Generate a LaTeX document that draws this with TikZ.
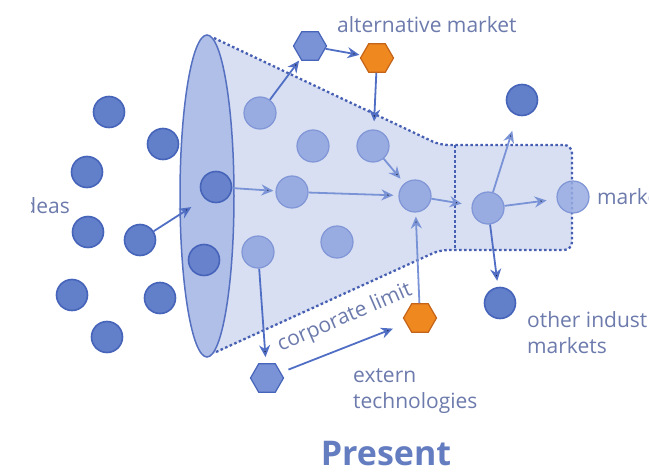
\documentclass[tikz,border=0pt]{standalone}
\usepackage{fontspec}
\setmainfont{Open Sans}
\usepackage{tikz}
\usetikzlibrary{shapes.geometric,arrows.meta}

\definecolor{funnelfill}{RGB}{216,223,242}
\definecolor{ellfill}{RGB}{176,191,231}
\definecolor{ellline}{RGB}{85,112,192}
\definecolor{ideafill}{RGB}{98,127,202}
\definecolor{idealine}{RGB}{70,100,185}
\definecolor{ellipsedot}{RGB}{104,131,203}
\definecolor{palefill}{RGB}{152,172,226}
\definecolor{paleline}{RGB}{128,150,214}
\definecolor{hexblue}{RGB}{122,146,214}
\definecolor{hexorange}{RGB}{240,136,32}
\definecolor{hexorangeline}{RGB}{196,100,24}
\definecolor{arrowblue}{RGB}{80,110,196}
\definecolor{arrowpale}{RGB}{122,147,214}
\definecolor{limitblue}{RGB}{70,95,178}
\definecolor{labelblue}{RGB}{108,122,172}
\definecolor{titleblue}{RGB}{100,125,192}

\begin{document}
\begin{tikzpicture}[x=1pt,y=-1pt,
    idea/.style={circle,minimum size=31pt,inner sep=0pt,fill=ideafill,draw=idealine,line width=1.6pt},
    pale/.style={circle,minimum size=32pt,inner sep=0pt,fill=palefill,draw=paleline,line width=1.2pt},
    techb/.style={regular polygon,regular polygon sides=6,minimum size=33pt,inner sep=0pt,fill=hexblue,draw=idealine,line width=1.2pt},
    techo/.style={regular polygon,regular polygon sides=6,minimum size=33pt,inner sep=0pt,fill=hexorange,draw=hexorangeline,line width=1.2pt},
    flow/.style={-{Stealth[length=12pt,width=11pt]},line width=1.8pt,draw=arrowblue,shorten >=2pt},
    lbl/.style={font=\fontsize{21}{26}\selectfont,text=labelblue,inner sep=0pt},
    limitline/.style={draw=limitblue,line width=2.3pt,dash pattern=on 2.5pt off 2.5pt}]
  \useasboundingbox (0,0) rectangle (649,474);
  % funnel
  \fill[funnelfill,rounded corners=8pt] (207,35) -- (440,145) -- (572,145)
    -- (572,250) -- (440,250) -- (207,357) -- cycle;
  \draw[limitline,rounded corners=8pt] (214,38) -- (440,145) -- (572,145)
    -- (572,250) -- (440,250) -- (216,352);
  \draw[limitline] (455,145) -- (455,250);
  \draw[fill=ellfill,draw=ellline,line width=1.5pt] (207,196)
    ellipse [x radius=27pt, y radius=161pt];
  \coordinate (entry) at (193,206);
  % ideas outside
  \node[idea] (i1) at (109,112) {};
  \node[idea] (i2) at (163,144) {};
  \node[idea] (i3) at (87,172) {};
  \node[idea] (i4) at (88,232) {};
  \node[idea] (i5) at (140,240) {};
  \node[idea] (i6) at (72,295) {};
  \node[idea] (i7) at (160,298) {};
  \node[idea] (i8) at (107,337) {};
  \node[idea,fill=ellipsedot] (e1) at (216,187) {};
  \node[idea,fill=ellipsedot] (e2) at (204,260) {};
  % inside the funnel
  \node[pale] (f1) at (260,113) {};
  \node[pale] (f2) at (313,146) {};
  \node[pale] (f3) at (292,192) {};
  \node[pale] (f4) at (258,252) {};
  \node[pale] (f5) at (337,242) {};
  \node[pale] (f6) at (373,146) {};
  \node[pale] (f7) at (415,196) {};
  \node[pale] (f8) at (488,208) {};
  \node[pale,fill opacity=0.85] (f9) at (573,197) {};
  \node[idea] (d1) at (522,100) {};
  \node[idea] (d2) at (500,303) {};
  % technologies
  \node[techb] (h1) at (310,46) {};
  \node[techo] (h2) at (377,58) {};
  \node[techb] (h3) at (267,378) {};
  \node[techo] (h4) at (420,318) {};
  % labels
  \begin{scope}
    \clip (31,180) rectangle (100,230);
    \node[lbl,anchor=base east] (ideas) at (70,213) {Ideas};
  \end{scope}
  \node[lbl,anchor=base west] (altm) at (337,32) {alternative market};
  \node[lbl,anchor=base west] (mkt) at (597,204) {market};
  \node[lbl,anchor=north west,align=left] (other) at (527,311) {other industry\\markets};
  \node[lbl,anchor=north west,align=left] (ext) at (353,368) {extern\\technologies};
  \node[lbl,anchor=base,rotate=23.5] (corp) at (347,323) {corporate limit};
  \node[font=\fontsize{34}{40}\selectfont\bfseries,text=titleblue,anchor=base,inner sep=0pt]
    (title) at (386,465) {Present};
  % flows
  \path[flow] (i5) edge (entry)
    (f1) edge (h1)
    (h1) edge (h2)
    (h2) edge[shorten >=8pt] (f6)
    (f8) edge[shorten >=6pt] (d2)
    (f4) edge[shorten >=6pt] (h3)
    (h3) edge[shorten <=8pt,shorten >=14pt] (h4);
  \path[flow,draw=arrowpale] (e1) edge (f3)
    (f3) edge[shorten >=5pt] (f7)
    (f6) edge[shorten >=6pt] (f7)
    (f7) edge[shorten >=10pt] (f8)
    (f8) edge[shorten >=10pt] (f9)
    (f8) edge[shorten >=16pt] (d1)
    (h4) edge[shorten >=4pt] (f7);
\end{tikzpicture}
\end{document}
